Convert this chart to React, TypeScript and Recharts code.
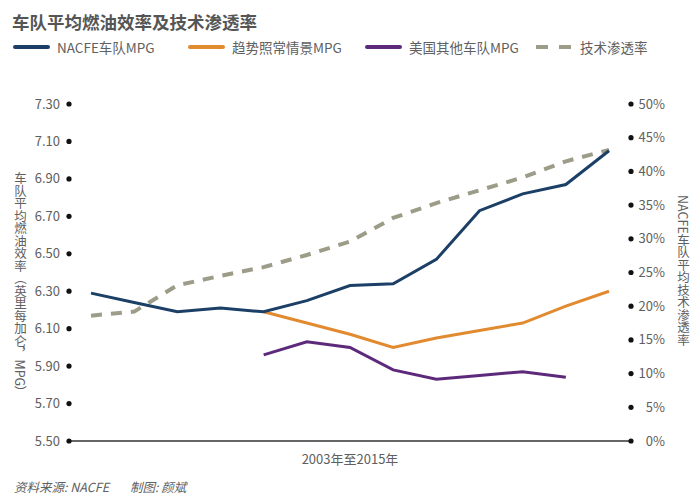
import { LineChart, Line, XAxis, YAxis } from "recharts";

// 2003 - 2015
const years = ["2003", "2004", "2005", "2006", "2007", "2008", "2009", "2010", "2011", "2012", "2013", "2014", "2015"];
const nacfeMpg = [6.29, 6.24, 6.19, 6.21, 6.19, 6.25, 6.33, 6.34, 6.47, 6.73, 6.82, 6.87, 7.05];
const trendMpg = [null, null, null, null, 6.19, 6.13, 6.07, 6.0, 6.05, 6.09, 6.13, 6.22, 6.3];
const otherMpg = [null, null, null, null, 5.96, 6.03, 6.0, 5.88, 5.83, 5.85, 5.87, 5.84, null];
const penetration = [18.6, 19.2, 23.1, 24.5, 25.8, 27.6, 29.6, 33.1, 35.3, 37.2, 39.1, 41.5, 43.2];

const mpgTicks = [5.5, 5.7, 5.9, 6.1, 6.3, 6.5, 6.7, 6.9, 7.1, 7.3];
const pctTicks = [0, 5, 10, 15, 20, 25, 30, 35, 40, 45, 50];

const data = years.map((year, i) => ({
  year,
  nacfe: nacfeMpg[i],
  trend: trendMpg[i],
  other: otherMpg[i],
  pen: penetration[i],
}));

const FONT = '"Noto Sans CJK SC", "Noto Sans", sans-serif';
const TEXT = "#606060";

const BLUE = "#1c3f66";
const ORANGE = "#e28a2f";
const PURPLE = "#5d2a7b";
const GRAY = "#9c9c88";

const LeftTick = (props: any) => {
  const { x, y, payload } = props;
  return (
    <g>
      <circle cx={x + 9} cy={y} r={2.6} fill="#111" />
      <text x={x} y={y} dy="0.35em" textAnchor="end" fontSize={13} fill={TEXT} fontFamily={FONT}>
        {payload.value.toFixed(2)}
      </text>
    </g>
  );
};

const RightTick = (props: any) => {
  const { x, y, payload } = props;
  return (
    <g>
      <circle cx={x} cy={y} r={2.6} fill="#111" />
      <text x={x + 34} y={y} dy="0.35em" textAnchor="end" fontSize={13} fill={TEXT} fontFamily={FONT}>
        {payload.value}%
      </text>
    </g>
  );
};

const legendItems = [
  { label: "NACFE车队MPG", color: BLUE, left: 13, dashed: false },
  { label: "趋势照常情景MPG", color: ORANGE, left: 188, dashed: false },
  { label: "美国其他车队MPG", color: PURPLE, left: 365, dashed: false },
  { label: "技术渗透率", color: GRAY, left: 536, dashed: true },
];

function LegendRow() {
  return (
    <>
      {legendItems.map((it) => (
        <div
          key={it.label}
          style={{ position: "absolute", left: it.left, top: 39, height: 16, display: "flex", alignItems: "center" }}
        >
          {it.dashed ? (
            <div style={{ display: "flex", width: 37, gap: 11 }}>
              <div style={{ width: 12, height: 4, background: it.color }} />
              <div style={{ width: 12, height: 4, background: it.color }} />
            </div>
          ) : (
            <div style={{ width: 37, height: 4, borderRadius: 2, background: it.color }} />
          )}
          <span style={{ marginLeft: 7, fontSize: 13.5, color: TEXT, whiteSpace: "nowrap" }}>{it.label}</span>
        </div>
      ))}
    </>
  );
}

export default function App() {
  return (
    <div style={{ position: "absolute", left: 0, top: 0, width: 700, height: 500, background: "#fff", fontFamily: FONT }}>
      <div style={{ position: "absolute", left: 12, top: 9, fontSize: 17.5, fontWeight: 700, color: "#555" }}>
        车队平均燃油效率及技术渗透率
      </div>
      <LegendRow />

      <LineChart width={700} height={500} data={data} margin={{ top: 104, right: 0, bottom: 39, left: 0 }}>
        <XAxis
          dataKey="year"
          height={20}
          tick={false}
          tickLine={false}
          axisLine={{ stroke: "#333", strokeWidth: 1.5 }}
          padding={{ left: 22, right: 22 }}
        />
        <YAxis
          yAxisId="l"
          domain={[5.5, 7.3]}
          ticks={mpgTicks}
          interval={0}
          width={69}
          axisLine={false}
          tickLine={false}
          tickSize={0}
          tickMargin={9}
          tick={<LeftTick />}
        />
        <YAxis
          yAxisId="r"
          orientation="right"
          domain={[0, 50]}
          ticks={pctTicks}
          interval={0}
          width={69}
          axisLine={false}
          tickLine={false}
          tickSize={0}
          tickMargin={0}
          tick={<RightTick />}
        />
        <Line
          yAxisId="r"
          dataKey="pen"
          stroke={GRAY}
          strokeWidth={4}
          strokeDasharray="11 9"
          dot={false}
          isAnimationActive={false}
        />
        <Line yAxisId="l" dataKey="trend" stroke={ORANGE} strokeWidth={3} dot={false} isAnimationActive={false} />
        <Line yAxisId="l" dataKey="other" stroke={PURPLE} strokeWidth={3} dot={false} isAnimationActive={false} />
        <Line yAxisId="l" dataKey="nacfe" stroke={BLUE} strokeWidth={3} dot={false} isAnimationActive={false} />
      </LineChart>

      <div
        style={{
          position: "absolute",
          left: 11,
          top: 172,
          writingMode: "vertical-rl",
          fontSize: 12.5,
          color: TEXT,
          whiteSpace: "nowrap",
        }}
      >
        车队平均燃油效率（英里每加仑，MPG）
      </div>
      <div
        style={{
          position: "absolute",
          left: 674,
          top: 195,
          writingMode: "vertical-rl",
          fontSize: 12.5,
          color: TEXT,
          whiteSpace: "nowrap",
        }}
      >
        NACFE车队平均技术渗透率
      </div>

      <div style={{ position: "absolute", left: 0, width: 700, top: 449, textAlign: "center", fontSize: 13, color: TEXT }}>
        2003年至2015年
      </div>
      <div style={{ position: "absolute", left: 14, top: 477, fontSize: 12.5, fontStyle: "italic", color: TEXT }}>
        资料来源: NACFE
      </div>
      <div style={{ position: "absolute", left: 130, top: 477, fontSize: 12.5, fontStyle: "italic", color: TEXT }}>
        制图: 颜斌
      </div>
    </div>
  );
}
